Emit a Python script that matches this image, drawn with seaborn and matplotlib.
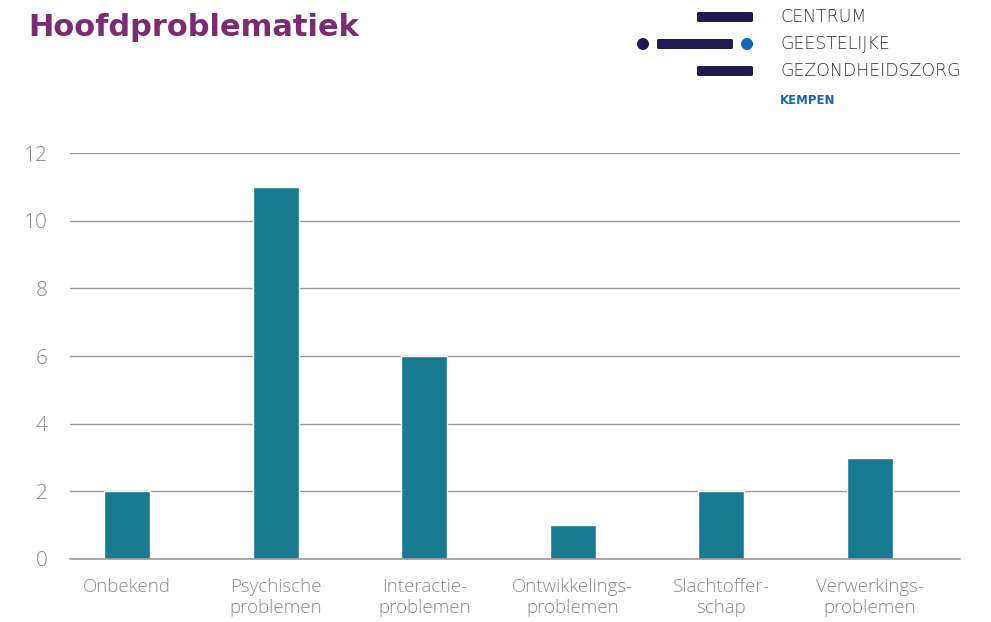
import matplotlib
matplotlib.use("Agg")
import matplotlib.pyplot as plt
import seaborn as sns
import pandas as pd
from matplotlib.patches import FancyBboxPatch, Ellipse

# Data
categories = ["Onbekend", "Psychische\nproblemen", "Interactie-\nproblemen",
              "Ontwikkelings-\nproblemen", "Slachtoffer-\nschap", "Verwerkings-\nproblemen"]
counts = [2, 11, 6, 1, 2, 3]
y_ticks = [0, 2, 4, 6, 8, 10, 12]

title_text = "Hoofdproblematiek"
logo_lines = ["CENTRUM", "GEESTELIJKE", "GEZONDHEIDSZORG"]
logo_sub = "KEMPEN"

BAR = "#177A91"
GRID = "#9a9a9a"
TICK = "#8a8a8a"

sns.set_theme(style="white")
plt.rcParams["font.family"] = ["Open Sans", "DejaVu Sans"]

W, H = 991, 622
fig = plt.figure(figsize=(W / 100, H / 100), dpi=100)
ax = fig.add_axes([70 / W, 1 - 559 / H, 890 / W, (559 - 153) / H])

df = pd.DataFrame({"cat": categories, "n": counts})
sns.barplot(data=df, x="cat", y="n", color=BAR, width=0.31, saturation=1, ax=ax, zorder=3)

ax.set_ylim(0, 12)
ax.set_xlim(-0.384, 5.606)
ax.set_yticks(y_ticks)
ax.set_yticklabels([str(t) for t in y_ticks], fontsize=15, color=TICK, fontweight="light")
ax.set_xticks(range(len(categories)))
ax.set_xticklabels(categories, fontsize=13.5, color=TICK, fontweight="light", linespacing=1.2)
ax.tick_params(axis="y", length=0, pad=16)
ax.tick_params(axis="x", length=0, pad=14)
ax.set_xlabel("")
ax.set_ylabel("")
for s in ax.spines.values():
    s.set_visible(False)
ax.yaxis.grid(True, color=GRID, linewidth=1, zorder=0)
ax.axhline(0, color=GRID, linewidth=1.2, zorder=4, clip_on=False)
ax.set_axisbelow(True)
ax.set_facecolor("none")

# Title
fig.text(28 / W, 1 - 27 / H, title_text, fontsize=22, fontweight="bold",
         color="#7B2A74", family=["DejaVu Sans"], va="center", ha="left")

# Logo marks
NAVY = "#1f1a4f"
BLUE = "#1565b5"
def bar_patch(x0, x1, yc, h=10):
    p = FancyBboxPatch((x0 / W, 1 - (yc + h / 2) / H), (x1 - x0) / W, h / H,
                       boxstyle="round,pad=0,rounding_size=0.002",
                       transform=fig.transFigure, color=NAVY, lw=0)
    fig.patches.append(p)

bar_patch(697, 753, 17)
bar_patch(657, 733, 44)
bar_patch(697, 753, 71)
for cx, col in [(643, NAVY), (747, BLUE)]:
    fig.patches.append(Ellipse((cx / W, 1 - 44 / H), 12 / W, 12 / H,
                               transform=fig.transFigure, color=col, lw=0))

for i, line in enumerate(logo_lines):
    fig.text(780 / W, 1 - (17 + 27 * i) / H, line, fontsize=12.5, color="#333333",
             family=["DejaVu Sans"], fontweight="light", va="center", ha="left")
fig.text(780 / W, 1 - 101 / H, logo_sub, fontsize=8.5, color=BLUE, fontweight="bold",
         family=["DejaVu Sans"], va="center", ha="left")

fig.savefig("out.png", dpi=100, facecolor="white")
